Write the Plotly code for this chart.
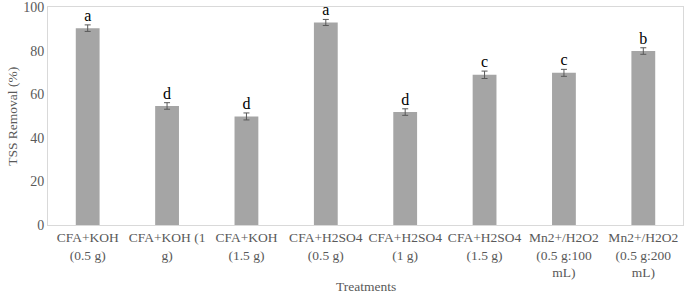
import plotly.graph_objects as go

categories = ["CFA+KOH<br>(0.5 g)", "CFA+KOH (1<br>g)", "CFA+KOH<br>(1.5 g)",
              "CFA+H2SO4<br>(0.5 g)", "CFA+H2SO4<br>(1 g)", "CFA+H2SO4<br>(1.5 g)",
              "Mn2+/H2O2<br>(0.5 g:100<br>mL)", "Mn2+/H2O2<br>(0.5 g:200<br>mL)"]
values = [90.3, 54.6, 49.8, 92.9, 51.8, 68.9, 69.8, 79.8]
errors = [1.5, 1.5, 1.6, 1.4, 1.5, 1.7, 1.6, 1.5]
letters = ["a", "d", "d", "a", "d", "c", "c", "b"]
yticks = [0, 20, 40, 60, 80, 100]

fig = go.Figure()
fig.add_trace(go.Bar(
    x=categories, y=values,
    marker=dict(color="#a5a5a5", line=dict(width=0)),
    width=0.3,
    error_y=dict(type="data", array=errors, color="#595959", thickness=1, width=3),
    showlegend=False,
))
fig.add_trace(go.Scatter(
    x=categories, y=[v + e for v, e in zip(values, errors)],
    mode="text", text=letters, textposition="top center",
    textfont=dict(family="Liberation Serif", size=16, color="#000000"),
    showlegend=False, cliponaxis=False,
))
fig.update_layout(
    width=685, height=293,
    margin=dict(l=48, r=2, t=7, b=68),
    paper_bgcolor="white", plot_bgcolor="white",
    font=dict(family="Liberation Serif", size=13, color="#595959"),
    xaxis=dict(showline=True, linecolor="#d9d9d9", linewidth=1, mirror=True,
               ticks="", showgrid=False, automargin=False,
               tickfont=dict(size=13.5)),
    yaxis=dict(range=[0, 100.001], tickvals=yticks, showline=True, linecolor="#d9d9d9",
               linewidth=1, mirror=True, showgrid=False, zeroline=False, ticks="",
               ticklen=0, tickfont=dict(size=14), automargin=False,
               ticklabeloverflow="allow"),
    bargap=0.7,
    annotations=[
        dict(text="Treatments", xref="paper", yref="paper", x=0.5, y=-0.28,
             xanchor="center", yanchor="middle", showarrow=False,
             font=dict(size=13.5, color="#595959")),
        dict(text="TSS Removal (%)", xref="paper", yref="paper", x=-0.057, y=0.5,
             xanchor="center", yanchor="middle", showarrow=False, textangle=-90,
             font=dict(size=13.5, color="#595959")),
    ],
)
fig.write_html("out.html", config={"displayModeBar": False},
               post_script="document.body.style.margin='0';document.body.style.overflow='hidden';")
